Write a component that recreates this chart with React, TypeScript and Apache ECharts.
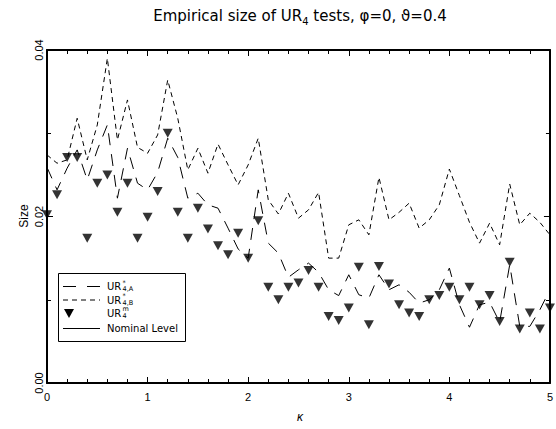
import React, { useEffect, useRef } from "react";
import * as echarts from "echarts";

// kappa grid (x values)
const KAPPA = [
  0.0, 0.1, 0.2, 0.3, 0.4, 0.5, 0.6, 0.7, 0.8, 0.9,
  1.0, 1.1, 1.2, 1.3, 1.4, 1.5, 1.6, 1.7, 1.8, 1.9,
  2.0, 2.1, 2.2, 2.3, 2.4, 2.5, 2.6, 2.7, 2.8, 2.9,
  3.0, 3.1, 3.2, 3.3, 3.4, 3.5, 3.6, 3.7, 3.8, 3.9,
  4.0, 4.1, 4.2, 4.3, 4.4, 4.5, 4.6, 4.7, 4.8, 4.9,
  5.0,
];

// UR*_{4,A} (long dashes)
const UR_A = [
  0.0259, 0.0232, 0.0258, 0.028, 0.0244, 0.028, 0.031, 0.0222, 0.0282, 0.024,
  0.0232, 0.0253, 0.0294, 0.0271, 0.0222, 0.0228, 0.0214, 0.021, 0.0186, 0.0161,
  0.015, 0.0232, 0.0168, 0.0156, 0.0127, 0.0136, 0.0144, 0.0133, 0.0112, 0.0105,
  0.013, 0.0106, 0.0102, 0.013, 0.0112, 0.0118, 0.0109, 0.0096, 0.01, 0.0112,
  0.0138, 0.0094, 0.0067, 0.0094, 0.0097, 0.0073, 0.0142, 0.0068, 0.0068, 0.0088,
  0.0112,
];

// UR*_{4,B} (short dashes)
const UR_B = [
  0.0274, 0.0264, 0.0268, 0.0318, 0.0268, 0.031, 0.039, 0.0292, 0.034, 0.0283,
  0.0276, 0.0298, 0.0364, 0.0318, 0.0256, 0.0282, 0.0252, 0.0287, 0.0262, 0.0238,
  0.0262, 0.0294, 0.022, 0.0203, 0.0228, 0.0198, 0.0208, 0.0229, 0.015, 0.015,
  0.019, 0.0196, 0.0178, 0.0247, 0.0196, 0.0205, 0.0216, 0.0186, 0.0196, 0.0214,
  0.0257, 0.0225, 0.0193, 0.0168, 0.0192, 0.0166, 0.0239, 0.019, 0.0204, 0.0193,
  0.0178,
];

// UR^m_4 (triangles)
const UR_M = [
  0.0202, 0.0226, 0.0271, 0.0271, 0.0174, 0.024, 0.025, 0.0205, 0.024, 0.0174,
  0.0199, 0.023, 0.03, 0.0205, 0.0174, 0.021, 0.0185, 0.0165, 0.0154, 0.018,
  0.015, 0.0195, 0.0115, 0.01, 0.0115, 0.012, 0.0135, 0.0115, 0.008, 0.0075,
  0.009, 0.0139, 0.007, 0.014, 0.0119, 0.0094, 0.0084, 0.008, 0.01, 0.0105,
  0.0115, 0.01, 0.0115, 0.0094, 0.0105, 0.0074, 0.0145, 0.0065, 0.0084, 0.0065,
  0.009,
];

// nominal level (above the plotted range)
const NOMINAL = [0.05, 0.05];
const NOMINAL_X = [0, 5];

const X_RANGE = [0, 5];
const Y_RANGE = [0, 0.04];

const FONT = "Liberation Sans, Arial, sans-serif";
const WIDE = "DejaVu Sans, sans-serif";

export default function App() {
  const ref = useRef<HTMLDivElement>(null);

  useEffect(() => {
    if (!ref.current) return;
    const chart = echarts.init(ref.current, undefined, { renderer: "svg" });

    const zip = (xs: number[], ys: number[]) => xs.map((x, i) => [x, ys[i]]);

    const tickCommon = {
      axisLine: { show: true, onZero: false, lineStyle: { color: "#000", width: 2 } },
      axisTick: { show: true, inside: true, length: 6, lineStyle: { color: "#000", width: 1 } },
      splitLine: { show: false },
      minorSplitLine: { show: false },
    };

    const xAxisBase = {
      type: "value",
      min: X_RANGE[0],
      max: X_RANGE[1],
      interval: 1,
      ...tickCommon,
      minorTick: { show: true, splitNumber: 5, length: 4, lineStyle: { color: "#000", width: 1 } },
    };
    const yAxisBase = {
      type: "value",
      min: Y_RANGE[0],
      max: Y_RANGE[1],
      interval: 0.02,
      ...tickCommon,
      minorTick: { show: true, splitNumber: 2, length: 4, lineStyle: { color: "#000", width: 1 } },
    };

    const lx1 = 63;
    const lx2 = 100;
    const tx = 107;
    const rows = [286.5, 300, 313, 328];
    const urW = 15.5;

    const txt = (x: number, y: number, text: string, size: number, family = WIDE) => ({
      type: "text",
      x,
      y,
      z: 11,
      style: { text, align: "left", verticalAlign: "middle", fontSize: size, fontFamily: family, fill: "#000", lineHeight: size },
    });

    chart.setOption({
      animation: false,
      backgroundColor: "#fff",
      grid: { left: 47, right: 2, top: 50, bottom: 46, containLabel: false },
      xAxis: [
        {
          ...xAxisBase,
          position: "bottom",
          axisLabel: { show: true, color: "#000", fontSize: 11, fontFamily: FONT, margin: 8 },
        },
        { ...xAxisBase, position: "top", axisLabel: { show: false } },
      ],
      yAxis: [
        {
          ...yAxisBase,
          position: "left",
          axisLabel: {
            show: true,
            color: "#000",
            fontSize: 11,
            fontFamily: FONT,
            rotate: 90,
            margin: 3,
            formatter: (v: number) => v.toFixed(2),
          },
        },
        { ...yAxisBase, position: "right", axisLabel: { show: false } },
      ],
      series: [
        {
          name: "A",
          type: "line",
          data: zip(KAPPA, UR_A),
          showSymbol: false,
          symbol: "none",
          lineStyle: { color: "#000", width: 1, type: [12, 9] },
          clip: true,
          z: 3,
        },
        {
          name: "B",
          type: "line",
          data: zip(KAPPA, UR_B),
          showSymbol: false,
          symbol: "none",
          lineStyle: { color: "#000", width: 1, type: [5, 4] },
          clip: true,
          z: 3,
        },
        {
          name: "M",
          type: "scatter",
          data: zip(KAPPA, UR_M),
          symbol: "triangle",
          symbolRotate: 180,
          symbolSize: [10, 9],
          itemStyle: { color: "#000" },
          z: 4,
        },
        {
          name: "Nominal",
          type: "line",
          data: zip(NOMINAL_X, NOMINAL),
          showSymbol: false,
          symbol: "none",
          lineStyle: { color: "#000", width: 1 },
          clip: true,
        },
      ],
      graphic: [
        {
          type: "text",
          x: 300,
          y: 16,
          style: {
            text: "{t|Empirical size of UR}{s|4}{t| tests, φ=0, ϑ=0.4}",
            align: "center",
            verticalAlign: "middle",
            rich: {
              t: { fontSize: 15, fontFamily: WIDE, fill: "#000", lineHeight: 20, verticalAlign: "middle" },
              s: { fontSize: 10, fontFamily: WIDE, fill: "#000", lineHeight: 11, verticalAlign: "bottom" },
            },
          },
        },
        {
          type: "text",
          x: 24,
          y: 216,
          rotation: Math.PI / 2,
          style: { text: "Size", align: "center", verticalAlign: "middle", fontSize: 12, fontFamily: FONT, fill: "#000" },
        },
        {
          type: "text",
          x: 300,
          y: 417,
          style: { text: "κ", align: "center", verticalAlign: "middle", fontSize: 12, fontStyle: "italic", fontFamily: FONT, fill: "#000" },
        },
        {
          type: "rect",
          shape: { x: 58.5, y: 273.5, width: 127, height: 68 },
          style: { fill: "#fff", stroke: "#000", lineWidth: 1 },
          z: 10,
        },
        {
          type: "line",
          shape: { x1: lx1, y1: rows[0], x2: lx2, y2: rows[0] },
          style: { stroke: "#000", lineWidth: 1, lineDash: [13, 11] },
          z: 11,
        },
        {
          type: "line",
          shape: { x1: lx1, y1: rows[1], x2: lx2, y2: rows[1] },
          style: { stroke: "#000", lineWidth: 1, lineDash: [5, 4] },
          z: 11,
        },
        {
          type: "polygon",
          shape: { points: [[64, rows[2] - 4], [74, rows[2] - 4], [69, rows[2] + 5]] },
          style: { fill: "#000" },
          z: 11,
        },
        {
          type: "line",
          shape: { x1: lx1, y1: rows[3] + 0.5, x2: lx2, y2: rows[3] + 0.5 },
          style: { stroke: "#000", lineWidth: 1 },
          z: 11,
        },
        // UR*_{4,A}
        txt(tx, rows[0], "UR", 10),
        txt(tx + urW, rows[0] - 4, "*", 6.5),
        txt(tx + urW, rows[0] + 2.5, "4,A", 6.5),
        // UR*_{4,B}
        txt(tx, rows[1], "UR", 10),
        txt(tx + urW, rows[1] - 4, "*", 6.5),
        txt(tx + urW, rows[1] + 2.5, "4,B", 6.5),
        // UR^m_4
        txt(tx, rows[2], "UR", 10),
        txt(tx + urW, rows[2] - 4, "m", 6.5),
        txt(tx + urW, rows[2] + 2.5, "4", 6.5),
        txt(tx, rows[3], "Nominal Level", 10),
      ],
    });

    return () => chart.dispose();
  }, []);

  return (
    <div
      ref={ref}
      style={{ position: "fixed", left: 0, top: 0, width: 556, height: 429, background: "#fff" }}
    />
  );
}
